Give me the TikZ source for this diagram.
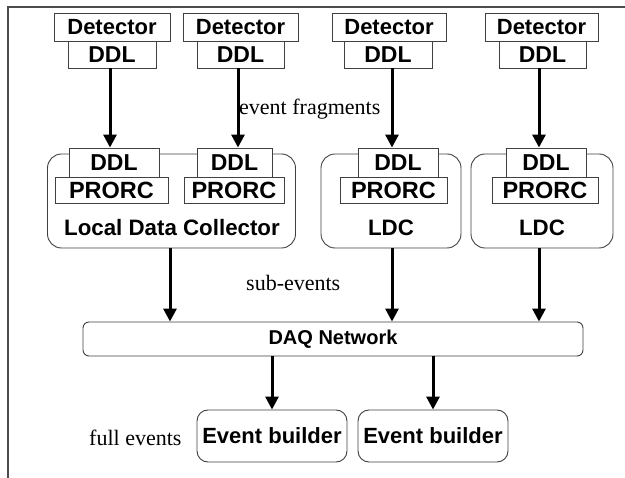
\documentclass[tikz,border=0pt]{standalone}
\usepackage{fontspec}
\setmainfont{Liberation Serif}
\newfontfamily\boxfont{Liberation Sans}
\usetikzlibrary{arrows.meta}
\newcommand{\bfsz}[1]{\boxfont\bfseries\fontsize{#1}{#1}\selectfont}
\begin{document}
\begin{tikzpicture}[x=1pt,y=-1pt,
  sq/.style={draw=black!75,line width=0.9pt,fill=white,inner sep=0pt,font=\bfsz{22}},
  ddl/.style={sq,font=\bfsz{23}},
  prc/.style={sq,font=\bfsz{23.5}},
  rbox/.style={draw=black!75,line width=0.9pt,fill=white,inner sep=0pt,rounded corners=14pt},
  lbl/.style={font=\fontsize{22}{22}\selectfont,inner sep=0pt},
  btxt/.style={font=\bfsz{22.3},inner sep=0pt},
  arr/.style={line width=3pt,-{Triangle[width=13pt,length=13pt]}}]
\useasboundingbox (0,0) rectangle (625,478);
\draw[black!70,line width=1.3pt] (8,478) -- (8,7) -- (625,7);

% top detectors
\node[sq,minimum width=116pt,minimum height=28pt] (det1) at (112,27) {Detector};
\node[ddl,minimum width=88pt,minimum height=27pt] (tddl1) at (112,54.5) {DDL};
\node[sq,minimum width=115pt,minimum height=28pt] (det2) at (240.5,27) {Detector};
\node[ddl,minimum width=87pt,minimum height=27pt] (tddl2) at (240.5,54.5) {DDL};
\node[sq,minimum width=114pt,minimum height=28pt] (det3) at (389,27) {Detector};
\node[ddl,minimum width=88pt,minimum height=27pt] (tddl3) at (388,54.5) {DDL};
\node[sq,minimum width=113pt,minimum height=28pt] (det4) at (541.5,27) {Detector};
\node[ddl,minimum width=87pt,minimum height=27pt] (tddl4) at (542.5,54.5) {DDL};

% LDC boxes
\node[rbox,minimum width=248pt,minimum height=94pt] (ldc1) at (171.5,201) {};
\node[rbox,minimum width=140pt,minimum height=94pt] (ldc2) at (391,201) {};
\node[rbox,minimum width=142pt,minimum height=94pt] (ldc3) at (542,201) {};

\node[ddl,minimum width=90pt,minimum height=29pt] (lddl1) at (114,162.5) {DDL};
\node[prc,minimum width=113pt,minimum height=26pt] (prorc1) at (111.5,190) {PRORC};
\node[ddl,minimum width=75pt,minimum height=29pt] (lddl2) at (234.5,162.5) {DDL};
\node[prc,minimum width=100pt,minimum height=26pt] (prorc2) at (234,190) {PRORC};
\node[ddl,minimum width=80pt,minimum height=29pt] (lddl3) at (398,162.5) {DDL};
\node[prc,minimum width=107pt,minimum height=26pt] (prorc3) at (393.5,190) {PRORC};
\node[ddl,minimum width=80pt,minimum height=29pt] (lddl4) at (546,162.5) {DDL};
\node[prc,minimum width=106pt,minimum height=26pt] (prorc4) at (545,190) {PRORC};

\node[btxt] (t1) at (172,228) {Local Data Collector};
\node[btxt] (t2) at (391,228) {LDC};
\node[btxt] (t3) at (542,228) {LDC};

% DAQ network
\node[rbox,rounded corners=6pt,minimum width=500pt,minimum height=34pt,
  font=\bfsz{20}] (daq) at (333,339) {DAQ Network};

% event builders
\node[rbox,rounded corners=11pt,minimum width=150pt,minimum height=52pt,
  font=\bfsz{22}] (eb1) at (272,436) {Event builder};
\node[rbox,rounded corners=11pt,minimum width=150pt,minimum height=52pt,
  font=\bfsz{22}] (eb2) at (433,436) {Event builder};

% labels
\node[lbl,anchor=west] (lf) at (239,109) {event fragments};
\node[lbl,anchor=west] (ls) at (246,283) {sub-events};
\node[lbl,anchor=west] (le) at (89,438) {full events};

% arrows
\draw[arr] ([xshift=-2pt]tddl1.south) -- ([xshift=-2pt]tddl1.south |- lddl1.north);
\draw[arr] ([xshift=-2.5pt]tddl2.south) -- ([xshift=-2.5pt]tddl2.south |- lddl2.north);
\draw[arr] ([xshift=4pt]tddl3.south) -- ([xshift=4pt]tddl3.south |- lddl3.north);
\draw[arr] ([xshift=-3.5pt]tddl4.south) -- ([xshift=-3.5pt]tddl4.south |- lddl4.north);

\draw[arr] ([xshift=-1.5pt]ldc1.south) -- ([xshift=-1.5pt]ldc1.south |- daq.north);
\draw[arr] ([xshift=1pt]ldc2.south) -- ([xshift=1pt]ldc2.south |- daq.north);
\draw[arr] ([xshift=-3pt]ldc3.south) -- ([xshift=-3pt]ldc3.south |- daq.north);

\draw[arr] (eb1.north |- daq.south) -- (eb1.north);
\draw[arr] (eb2.north |- daq.south) -- (eb2.north);
\end{tikzpicture}
\end{document}
